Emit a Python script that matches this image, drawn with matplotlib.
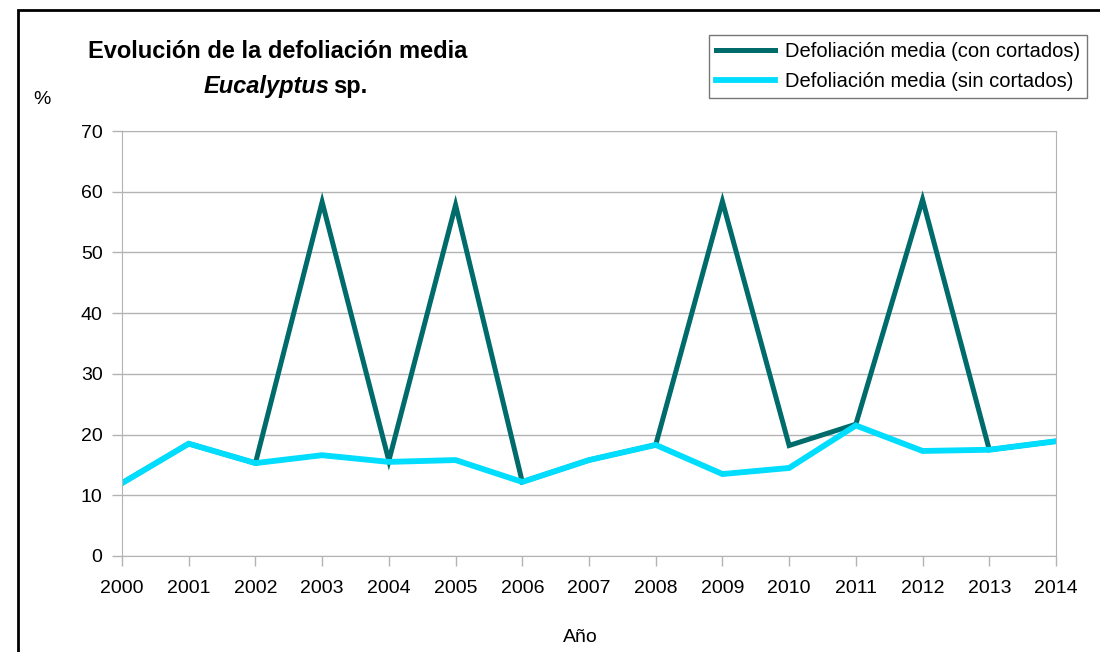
import matplotlib.pyplot as plt
from matplotlib.patches import Rectangle

plt.rcParams['font.family'] = ['Liberation Sans', 'DejaVu Sans']

years = list(range(2000, 2015))
con_cortados = [12.0, 18.5, 15.3, 58.3, 15.7, 57.8, 12.2, 15.8, 18.3, 58.4, 18.2, 21.7, 58.7, 17.5, 18.9]
sin_cortados = [12.0, 18.5, 15.3, 16.6, 15.5, 15.8, 12.2, 15.8, 18.3, 13.5, 14.5, 21.5, 17.3, 17.5, 18.9]

fig = plt.figure(figsize=(11, 6.52), dpi=100)
ax = fig.add_axes([122 / 1100, 1 - 556 / 652, (1056 - 122) / 1100, (556 - 131) / 652])

ax.plot(years, con_cortados, color='#006B6B', lw=3.6, label='Defoliación media (con cortados)',
        solid_joinstyle='miter')
ax.plot(years, sin_cortados, color='#00DDFF', lw=4.2, label='Defoliación media (sin cortados)',
        solid_joinstyle='miter')

ax.set_xlim(2000, 2014)
ax.set_ylim(0, 70)
ax.set_xticks(years)
ax.set_yticks(range(0, 71, 10))
ax.grid(axis='y', color='#B3B3B3', lw=1)
ax.set_axisbelow(True)
for s in ax.spines.values():
    s.set_color('#B3B3B3')
ax.tick_params(colors='#B3B3B3', labelcolor='black', labelsize=14, length=7, width=1)
ax.tick_params(axis='x', pad=10)
ax.tick_params(axis='y', pad=7)

# title (two lines, second with italic genus name)
fig.text(278 / 1100, 1 - 52 / 652, 'Evolución de la defoliación media', ha='center', va='center',
         fontsize=17, fontweight='bold')
fig.text(329 / 1100, 1 - 86 / 652, 'Eucalyptus', ha='right', va='center',
         fontsize=17, fontweight='bold', style='italic')
fig.text(333 / 1100, 1 - 86 / 652, 'sp.', ha='left', va='center',
         fontsize=17, fontweight='bold')
fig.text(42 / 1100, 1 - 100 / 652, '%', ha='center', va='center', fontsize=14)
fig.text(580 / 1100, 1 - 637 / 652, 'Año', ha='center', va='center', fontsize=14)

leg = fig.legend(loc='upper right', bbox_to_anchor=(1097 / 1100, 1 - 25 / 652), fontsize=14.5,
                 frameon=True, fancybox=False, edgecolor='#555555', handlelength=2.9,
                 handletextpad=0.5, borderpad=0.35, labelspacing=0.55)
leg.get_frame().set_linewidth(1)

# outer chart border
fig.add_artist(Rectangle((18 / 1100, -0.1), 2, 1.1 - 10 / 652, transform=fig.transFigure,
                         fill=False, lw=2, edgecolor='black'))

fig.savefig('out.png', dpi=100)
